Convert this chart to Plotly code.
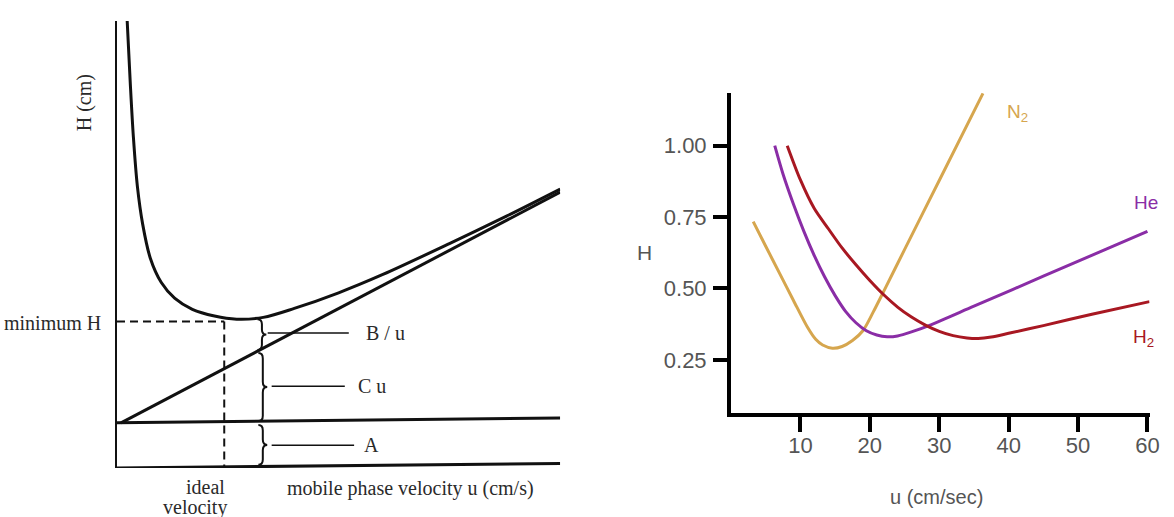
import plotly.graph_objects as go

# ---------------- Left panel: van Deemter schematic (arbitrary units) ----------------
curve_u = [0.23, 0.30, 0.37, 0.46, 0.58, 0.75, 1.0, 1.3, 1.7, 2.2, 2.7, 3.3, 4.0, 5.0, 6.0, 7.5, 8.8, 10.0]
curve_h = [10.0, 8.6, 7.4, 6.3, 5.45, 4.7, 4.15, 3.8, 3.55, 3.4, 3.33, 3.37, 3.57, 3.92, 4.33, 5.02, 5.64, 6.24]
cu_line_u = [0.09, 10.0]
cu_line_h = [1.01, 6.17]
a_line_u = [0.0, 10.0]
a_line_h = [1.01, 1.12]
base_u = [0.0, 10.0]
base_h = [0.0, 0.1]
ideal_u = 2.42
min_h = 3.28
brace_x = [3.17, 3.19, 3.19]
brace_lo = [2.64, 1.05, 0.07]
brace_hi = [3.33, 2.57, 0.96]
brace_labels = ["B / u", "C u", "A"]
lead_y = [3.02, 1.83, 0.51]
lead_x0 = [3.40, 3.49, 3.49]
lead_x1 = [5.23, 5.14, 5.35]
label_x = [5.57, 5.39, 5.53]

# ---------------- Right panel: H vs u for carrier gases ----------------
n2_u = [3.2, 5, 7, 9, 11, 12.2, 13.2, 14.6, 16, 17.5, 19, 20.5, 22, 25, 30, 36.3]
n2_h = [0.734, 0.648, 0.553, 0.458, 0.365, 0.322, 0.302, 0.291, 0.297, 0.318, 0.352, 0.418, 0.49, 0.636, 0.878, 1.183]
he_u = [6.3, 7.5, 9, 10.5, 12, 13.5, 15, 16.5, 18, 19.5, 21, 22.5, 24, 26, 28.7, 35, 45, 60]
he_h = [1.0, 0.90, 0.795, 0.70, 0.615, 0.54, 0.475, 0.42, 0.38, 0.352, 0.337, 0.331, 0.334, 0.348, 0.372, 0.438, 0.543, 0.70]
h2_u = [8.1, 10, 12, 14, 16, 18, 20, 22, 24, 26, 28, 30, 32, 34, 35.6, 37.5, 40, 45, 52, 60.3]
h2_h = [1.0, 0.88, 0.78, 0.71, 0.642, 0.583, 0.528, 0.478, 0.435, 0.40, 0.372, 0.35, 0.335, 0.327, 0.325, 0.33, 0.343, 0.37, 0.41, 0.454]
x_ticks = [10, 20, 30, 40, 50, 60]
y_ticks = [0.25, 0.50, 0.75, 1.00]
y_ticktext = ["0.25", "0.50", "0.75", "1.00"]
gas_names = ["N<sub>2</sub>", "He", "H<sub>2</sub>"]
gas_colors = ["#D6A64E", "#8A2DA6", "#A81822"]
gas_label_u = [41.3, 59.8, 59.4]
gas_label_h = [1.115, 0.80, 0.325]

W, H = 1174, 517
fig = go.Figure()

blk = "#111111"
txt = "#2a2a2a"
serif = "Liberation Serif, Times New Roman, serif"
sans = "Liberation Sans, Arial, sans-serif"

def left_line(xs, ys, width=3, dash=None):
    fig.add_trace(go.Scatter(x=xs, y=ys, mode="lines", xaxis="x", yaxis="y",
                             line=dict(color=blk, width=width, dash=dash, shape="linear"),
                             hoverinfo="skip", showlegend=False, cliponaxis=False))

fig.add_trace(go.Scatter(x=curve_u, y=curve_h, mode="lines", xaxis="x", yaxis="y",
                         line=dict(color=blk, width=3, shape="spline", smoothing=0.9),
                         hoverinfo="skip", showlegend=False, cliponaxis=False))
left_line(cu_line_u, cu_line_h)
left_line(a_line_u, a_line_h)
left_line(base_u, base_h)
left_line([0, ideal_u], [min_h, min_h], width=2, dash="8px,5px")
left_line([ideal_u, ideal_u], [min_h, 0], width=2, dash="8px,5px")

shapes = []
for bx, lo, hi, ly, x0, x1 in zip(brace_x, brace_lo, brace_hi, lead_y, lead_x0, lead_x1):
    w = 0.10
    mid = (lo + hi) / 2
    d = min(0.12, (hi - lo) / 6)
    path = (f"M {bx},{lo} Q {bx + w},{lo} {bx + w},{lo + d} "
            f"L {bx + w},{mid - d} Q {bx + w},{mid} {bx + 2 * w},{mid} "
            f"Q {bx + w},{mid} {bx + w},{mid + d} "
            f"L {bx + w},{hi - d} Q {bx + w},{hi} {bx},{hi}")
    shapes.append(dict(type="path", path=path, xref="x", yref="y",
                       line=dict(color=blk, width=2)))
    left_line([x0, x1], [ly, ly], width=1.5)

def ptxt(px, py, text, family, size, color, xa="center", angle=0):
    return dict(x=px / W, y=1 - py / H, xref="paper", yref="paper", text=text, showarrow=False,
                xanchor=xa, yanchor="middle", textangle=angle,
                font=dict(family=family, size=size, color=color))

annotations = []
for lab, lx, ly in zip(brace_labels, label_x, lead_y):
    annotations.append(dict(x=lx, y=ly, xref="x", yref="y", text=lab, showarrow=False,
                            xanchor="left", yanchor="middle",
                            font=dict(family=serif, size=20, color=txt)))
annotations += [
    ptxt(104, 323, "minimum H", serif, 20, txt, xa="right"),
    ptxt(85, 103, "H (cm)", serif, 20, txt, angle=-90),
    ptxt(229, 487, "ideal", serif, 20, txt, xa="right"),
    ptxt(231, 507, "velocity", serif, 20, txt, xa="right"),
    ptxt(414, 488, "mobile phase velocity u (cm/s)", serif, 20, txt),
]

for u, h, c in zip([n2_u, he_u, h2_u], [n2_h, he_h, h2_h], gas_colors):
    fig.add_trace(go.Scatter(x=u, y=h, mode="lines", xaxis="x2", yaxis="y2",
                             line=dict(color=c, width=3, shape="spline", smoothing=0.8),
                             hoverinfo="skip", showlegend=False, cliponaxis=False))
for name, c, lu, lh in zip(gas_names, gas_colors, gas_label_u, gas_label_h):
    annotations.append(dict(x=lu, y=lh, xref="x2", yref="y2", text=name, showarrow=False,
                            xanchor="center", yanchor="middle",
                            font=dict(family=sans, size=19, color=c)))
annotations += [
    ptxt(650, 252, "H", sans, 21, "#555"),
    ptxt(945, 497, "u (cm/sec)", sans, 20, "#555"),
]

fig.update_layout(
    width=W, height=H, autosize=False, margin=dict(l=0, r=0, t=0, b=0),
    paper_bgcolor="white", plot_bgcolor="white",
    shapes=shapes, annotations=annotations,
    xaxis=dict(domain=[118 / W, 565 / W], range=[0, 10], visible=False),
    yaxis=dict(domain=[1 - 468 / H, 1 - 21 / H], range=[0, 10], showgrid=False, zeroline=False,
               showticklabels=False, ticks="", showline=True, linecolor=blk, linewidth=2),
    xaxis2=dict(domain=[737.3 / W, (737.3 + 60.3 * 7) / W], range=[0, 60.3], anchor="y2",
                showgrid=False, zeroline=False, showline=True, linecolor="black", linewidth=4,
                ticks="outside", ticklen=15, tickwidth=4, tickcolor="black",
                ticklabelstandoff=-6,
                tickvals=x_ticks, ticktext=[str(v) for v in x_ticks],
                tickfont=dict(family=sans, size=22, color="#555")),
    yaxis2=dict(domain=[1 - 413.3 / H, 1 - 92.7 / H], range=[0.063, 1.1855], anchor="x2",
                showgrid=False, zeroline=False, showline=True, linecolor="black", linewidth=4,
                ticks="outside", ticklen=14, tickwidth=4, tickcolor="black",
                ticklabelstandoff=2,
                tickvals=y_ticks, ticktext=y_ticktext,
                tickfont=dict(family=sans, size=22, color="#555")),
)

fig.write_html("out.html", config={"displayModeBar": False, "responsive": False},
               post_script=("document.documentElement.style.margin='0';"
                            "document.documentElement.style.overflow='hidden';"
                            "document.body.style.margin='0';"
                            "document.body.style.overflow='hidden';"))
